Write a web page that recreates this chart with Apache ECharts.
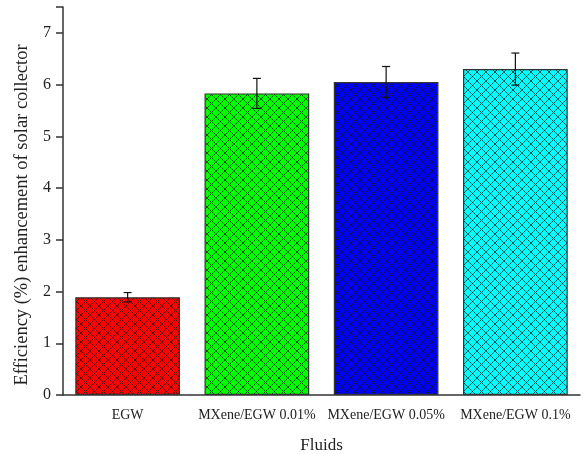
<!DOCTYPE html>
<html>
<head>
<meta charset="utf-8">
<script src="https://cdn.jsdelivr.net/npm/echarts@6/dist/echarts.min.js"></script>
<style>
  html, body { margin: 0; padding: 0; background: #fff; }
  #chart { width: 587px; height: 454px; }
</style>
</head>
<body>
<div id="chart"></div>
<script>
// Fluids and the measured efficiency enhancement (%) with its error
const categories = ['EGW', 'MXene/EGW 0.01%', 'MXene/EGW 0.05%', 'MXene/EGW 0.1%'];
const enhancement = [1.89, 5.83, 6.05, 6.30];
const errors = [0.09, 0.29, 0.30, 0.31];
const barColors = ['#ff0000', '#00ff00', '#0000ff', '#00ffff'];
const yTicks = [0, 1, 2, 3, 4, 5, 6, 7];

const FONT = '"Liberation Serif", "Times New Roman", serif';

// Cross-hatched fill tile for a bar
function hatch(fill) {
  const s = 9;
  const c = document.createElement('canvas');
  c.width = s; c.height = s;
  const g = c.getContext('2d');
  g.fillStyle = fill;
  g.fillRect(0, 0, s, s);
  g.strokeStyle = 'rgba(20,20,20,0.8)';
  g.lineWidth = 0.9;
  g.beginPath();
  g.moveTo(0, 0); g.lineTo(s, s);
  g.moveTo(s, 0); g.lineTo(0, s);
  g.stroke();
  return { image: c, repeat: 'repeat' };
}

const chart = echarts.init(document.getElementById('chart'));

const errorData = categories.map((c, i) => [i, enhancement[i], errors[i]]);

chart.setOption({
  animation: false,
  backgroundColor: '#ffffff',
  grid: { left: 63, right: 7, top: 7, bottom: 59, outerBoundsMode: 'none', containLabel: false },
  xAxis: {
    type: 'category',
    data: categories,
    name: 'Fluids',
    nameLocation: 'middle',
    nameGap: 42,
    nameTextStyle: { fontFamily: FONT, fontSize: 17, color: '#222' },
    axisLine: { lineStyle: { color: '#333', width: 1.5 } },
    axisTick: { alignWithLabel: true, length: 7, lineStyle: { color: '#333', width: 1.5 } },
    axisLabel: { interval: 0, fontFamily: FONT, fontSize: 14, color: '#222', margin: 13 }
  },
  yAxis: {
    type: 'value',
    min: 0,
    max: 7.5,
    interval: 1,
    name: 'Efficiency (%) enhancement of solar collector',
    nameLocation: 'middle',
    nameGap: 23,
    nameTextStyle: { fontFamily: FONT, fontSize: 18.5, color: '#222', padding: [0, 28, 0, 0] },
    splitLine: { show: false },
    axisLine: { show: true, lineStyle: { color: '#333', width: 1.5 } },
    axisTick: { show: true, length: 7, lineStyle: { color: '#333', width: 1.5 } },
    axisLabel: {
      fontFamily: FONT, fontSize: 16, color: '#222', margin: 12,
      formatter: v => (yTicks.indexOf(v) >= 0 ? String(v) : '')
    }
  },
  series: [
    {
      type: 'bar',
      barWidth: '81%',
      data: enhancement.map((v, i) => ({
        value: v,
        itemStyle: { color: hatch(barColors[i]), borderColor: '#333', borderWidth: 1.2 }
      }))
    },
    {
      type: 'custom',
      data: errorData,
      z: 10,
      renderItem: function (params, api) {
        const x = api.value(0);
        const v = api.value(1);
        const e = api.value(2);
        const top = api.coord([x, v + e]);
        const bot = api.coord([x, v - e]);
        const cap = 4;
        const style = { stroke: '#111', lineWidth: 1.2 };
        return {
          type: 'group',
          children: [
            { type: 'line', shape: { x1: top[0], y1: top[1], x2: bot[0], y2: bot[1] }, style },
            { type: 'line', shape: { x1: top[0] - cap, y1: top[1], x2: top[0] + cap, y2: top[1] }, style },
            { type: 'line', shape: { x1: bot[0] - cap, y1: bot[1], x2: bot[0] + cap, y2: bot[1] }, style }
          ]
        };
      }
    }
  ]
});
</script>
</body>
</html>
